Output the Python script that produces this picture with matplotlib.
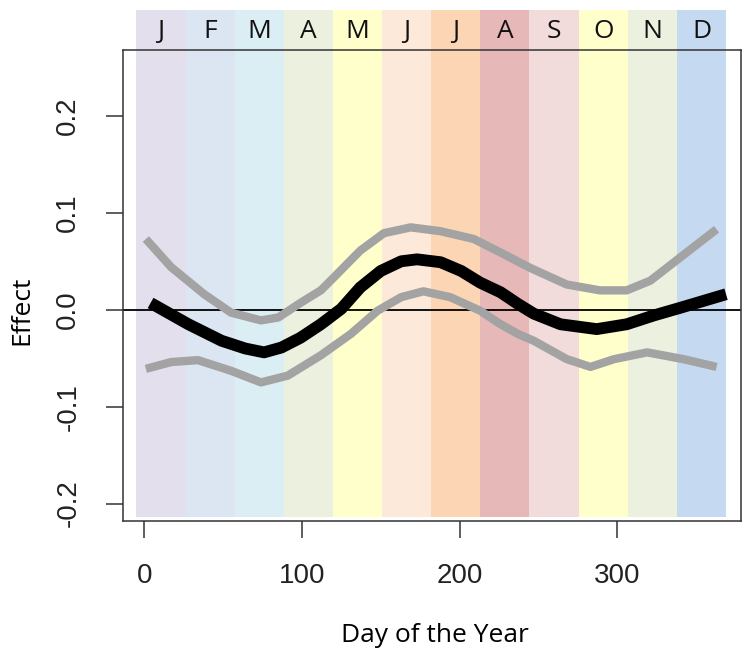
import numpy as np
from matplotlib import pyplot as plt
import matplotlib.transforms as mtransforms

# --- data ---
months = ["J", "F", "M", "A", "M", "J", "J", "A", "S", "O", "N", "D"]
month_colors = ["#e4dfec", "#dce6f2", "#dbeef4", "#ebf1de", "#ffffcc", "#fde9d9",
                "#fcd5b4", "#e6b8b7", "#f2dcdb", "#ffffcc", "#ebf1de", "#c5d9f1"]

effect_day = [4, 28, 49, 64, 76, 87, 99, 112, 125, 137, 150, 163, 173, 188, 201,
              213, 226, 237, 247, 264, 287, 306, 323, 340, 369]
effect_val = [0.007, -0.015, -0.032, -0.040, -0.044, -0.039, -0.029, -0.015, 0.001,
              0.023, 0.040, 0.050, 0.052, 0.049, 0.040, 0.028, 0.018, 0.006, -0.004,
              -0.015, -0.020, -0.015, -0.006, 0.002, 0.016]

upper_day = [1, 17, 38, 55, 74, 85, 99, 112, 120, 137, 152, 169, 188, 209, 226,
             245, 268, 289, 306, 321, 340, 363]
upper_val = [0.073, 0.044, 0.016, -0.003, -0.011, -0.008, 0.007, 0.020, 0.033, 0.061,
             0.079, 0.085, 0.081, 0.073, 0.059, 0.043, 0.026, 0.020, 0.020, 0.030,
             0.054, 0.083]

lower_day = [1, 17, 34, 55, 74, 91, 112, 131, 148, 163, 177, 194, 213, 226, 237,
             247, 268, 283, 298, 319, 342, 363]
lower_val = [-0.061, -0.054, -0.052, -0.063, -0.075, -0.068, -0.047, -0.025, -0.001,
             0.013, 0.019, 0.013, -0.001, -0.015, -0.025, -0.032, -0.051, -0.059,
             -0.051, -0.044, -0.051, -0.059]

x_ticks = [0, 100, 200, 300]
y_ticks = [-0.2, -0.1, 0.0, 0.1, 0.2]

fig = plt.figure(figsize=(7.51, 6.60), dpi=100)
ax = fig.add_axes([123 / 751, 139 / 660, 618 / 751, 471 / 660])
ax.set_xlim(-13.5, 378.5)
ax.set_ylim(-0.218, 0.268)

# month bands (overlay, running above the plot box)
band_edges = np.linspace(-5, 369, len(months) + 1)
trans = mtransforms.blended_transform_factory(ax.transData, ax.transAxes)
for i, (m, c) in enumerate(zip(months, month_colors)):
    ax.add_patch(plt.Rectangle((band_edges[i], 0.0085), band_edges[i + 1] - band_edges[i],
                               1.0765, transform=trans, facecolor=c, edgecolor="none",
                               clip_on=False, zorder=0))
    ax.text((band_edges[i] + band_edges[i + 1]) / 2, 1.04, m, transform=trans,
            ha="center", va="center", fontsize=19, family="Open Sans", color="#111111")

ax.axhline(0, color="black", lw=1.3, zorder=2)
ax.plot(upper_day, upper_val, color="#a3a3a3", lw=6, solid_capstyle="butt", zorder=3)
ax.plot(lower_day, lower_val, color="#a3a3a3", lw=6, solid_capstyle="butt", zorder=3)
ax.plot(effect_day, effect_val, color="black", lw=8.5, solid_capstyle="butt", zorder=4)

for s in ax.spines.values():
    s.set_color("#333333")
    s.set_linewidth(1.1)
    s.set_zorder(5)

ax.set_xticks(x_ticks)
ax.set_yticks(y_ticks)
ax.set_yticklabels(["-0.2", "-0.1", "0.0", "0.1", "0.2"], rotation=90, va="center")
ax.tick_params(length=12, width=1.1, color="#333333", labelsize=20, pad=18,
               labelcolor="#222222")
for lab in ax.get_xticklabels() + ax.get_yticklabels():
    lab.set_family("Liberation Sans")

fig.text(435 / 751, 1 - 635 / 660, "Day of the Year", ha="center", va="center",
         fontsize=19, family="Open Sans")
fig.text(22 / 751, 1 - 310 / 660, "Effect", ha="center", va="center", rotation=90,
         fontsize=19, family="Open Sans")

fig.savefig("out.png", dpi=100)
